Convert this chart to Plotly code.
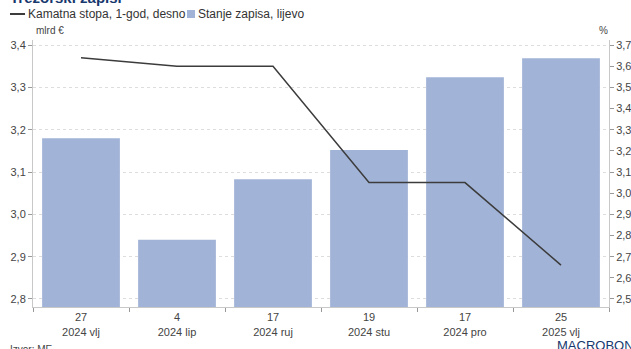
import plotly.graph_objects as go

categories = ["27<br>2024 vlj", "4<br>2024 lip", "17<br>2024 ruj", "19<br>2024 stu", "17<br>2024 pro", "25<br>2025 vlj"]
stanje_zapisa = [3.18, 2.94, 3.083, 3.152, 3.324, 3.369]
kamatna_stopa = [3.64, 3.60, 3.60, 3.05, 3.05, 2.66]
left_ticks = [2.8, 2.9, 3.0, 3.1, 3.2, 3.3, 3.4]
right_ticks = [2.5, 2.6, 2.7, 2.8, 2.9, 3.0, 3.1, 3.2, 3.3, 3.4, 3.5, 3.6, 3.7]

W, H = 631, 349
L, R, T, B = 33, 22, 40, 42
pw = W - L - R
ph = H - T - B

FONT = "Liberation Sans, Arial, sans-serif"
TXT = "#444444"
AX = "#c8c8c8"
BAR_C = "#a1b3d7"
LINE_C = "#3c3c3c"

fig = go.Figure()
fig.add_trace(go.Bar(
    x=categories, y=stanje_zapisa, name="Stanje zapisa, lijevo",
    marker=dict(color=BAR_C, line=dict(width=0)), yaxis="y",
))
fig.add_trace(go.Scatter(
    x=categories, y=kamatna_stopa, name="Kamatna stopa, 1-god, desno",
    mode="lines", line=dict(color=LINE_C, width=1.5), yaxis="y2",
))

fig.update_layout(
    width=W, height=H,
    margin=dict(l=L, r=R, t=T, b=B, pad=0, autoexpand=False),
    paper_bgcolor="white", plot_bgcolor="white",
    separators=", ",
    font=dict(family=FONT, size=11, color=TXT),
    bargap=0.19,
    showlegend=False,
    xaxis=dict(
        type="category", showline=True, linecolor=AX, linewidth=1,
        ticks="outside", tickson="boundaries", ticklen=4, tickcolor="#999999",
        showgrid=False, tickfont=dict(size=11, color=TXT), automargin=False,
    ),
    yaxis=dict(
        range=[2.781, 3.412], tickvals=left_ticks, tickformat=".1f",
        showline=True, linecolor=AX, linewidth=1,
        ticks="outside", ticklen=4, tickcolor="#999999",
        showgrid=True, gridcolor="#dddddd", griddash="dot", gridwidth=1,
        zeroline=False, tickfont=dict(size=11, color=TXT), automargin=False,
    ),
    yaxis2=dict(
        range=[2.462, 3.724], tickvals=right_ticks, tickformat=".1f",
        overlaying="y", side="right",
        showline=True, linecolor=AX, linewidth=1,
        ticks="outside", ticklen=4, tickcolor="#999999",
        showgrid=False, zeroline=False, tickfont=dict(size=11, color=TXT),
        automargin=False,
    ),
)

def px(xpix):
    return (xpix - L) / pw

def py(ypix):
    return (H - B - ypix) / ph

annotations = [
    dict(text="<b>Trezorski zapisi</b>", xref="paper", yref="paper",
         x=px(8), y=py(8), xanchor="left", yanchor="bottom",
         showarrow=False, font=dict(size=15, color="#17386e", family=FONT)),
    dict(text="Kamatna stopa, 1-god, desno", xref="paper", yref="paper",
         x=px(26), y=py(14), xanchor="left", yanchor="middle", showarrow=False,
         font=dict(size=12, color="#333333")),
    dict(text="Stanje zapisa, lijevo", xref="paper", yref="paper",
         x=px(196), y=py(14), xanchor="left", yanchor="middle", showarrow=False,
         font=dict(size=12, color="#333333")),
    dict(text="mlrd €", xref="paper", yref="paper", x=px(34), y=py(31), xanchor="left",
         yanchor="middle", showarrow=False, font=dict(size=10, color=TXT)),
    dict(text="%", xref="paper", yref="paper", x=px(610), y=py(31), xanchor="right",
         yanchor="middle", showarrow=False, font=dict(size=10, color=TXT)),
    dict(text="Izvor: ME", xref="paper", yref="paper", x=px(8), y=py(342),
         xanchor="left", yanchor="top", showarrow=False, font=dict(size=10, color=TXT)),
    dict(text="MACROBOND", xref="paper", yref="paper", x=px(555), y=py(336),
         xanchor="left", yanchor="top", showarrow=False, font=dict(size=13, color="#17386e")),
]

shapes = [
    dict(type="line", xref="paper", yref="paper", x0=px(10), x1=px(25), y0=py(14), y1=py(14),
         line=dict(color=LINE_C, width=2)),
    dict(type="rect", xref="paper", yref="paper", x0=px(187), x1=px(195), y0=py(18), y1=py(10),
         fillcolor=BAR_C, line=dict(width=0)),
]
fig.update_layout(annotations=annotations, shapes=shapes)

fig.write_html("out.html")
